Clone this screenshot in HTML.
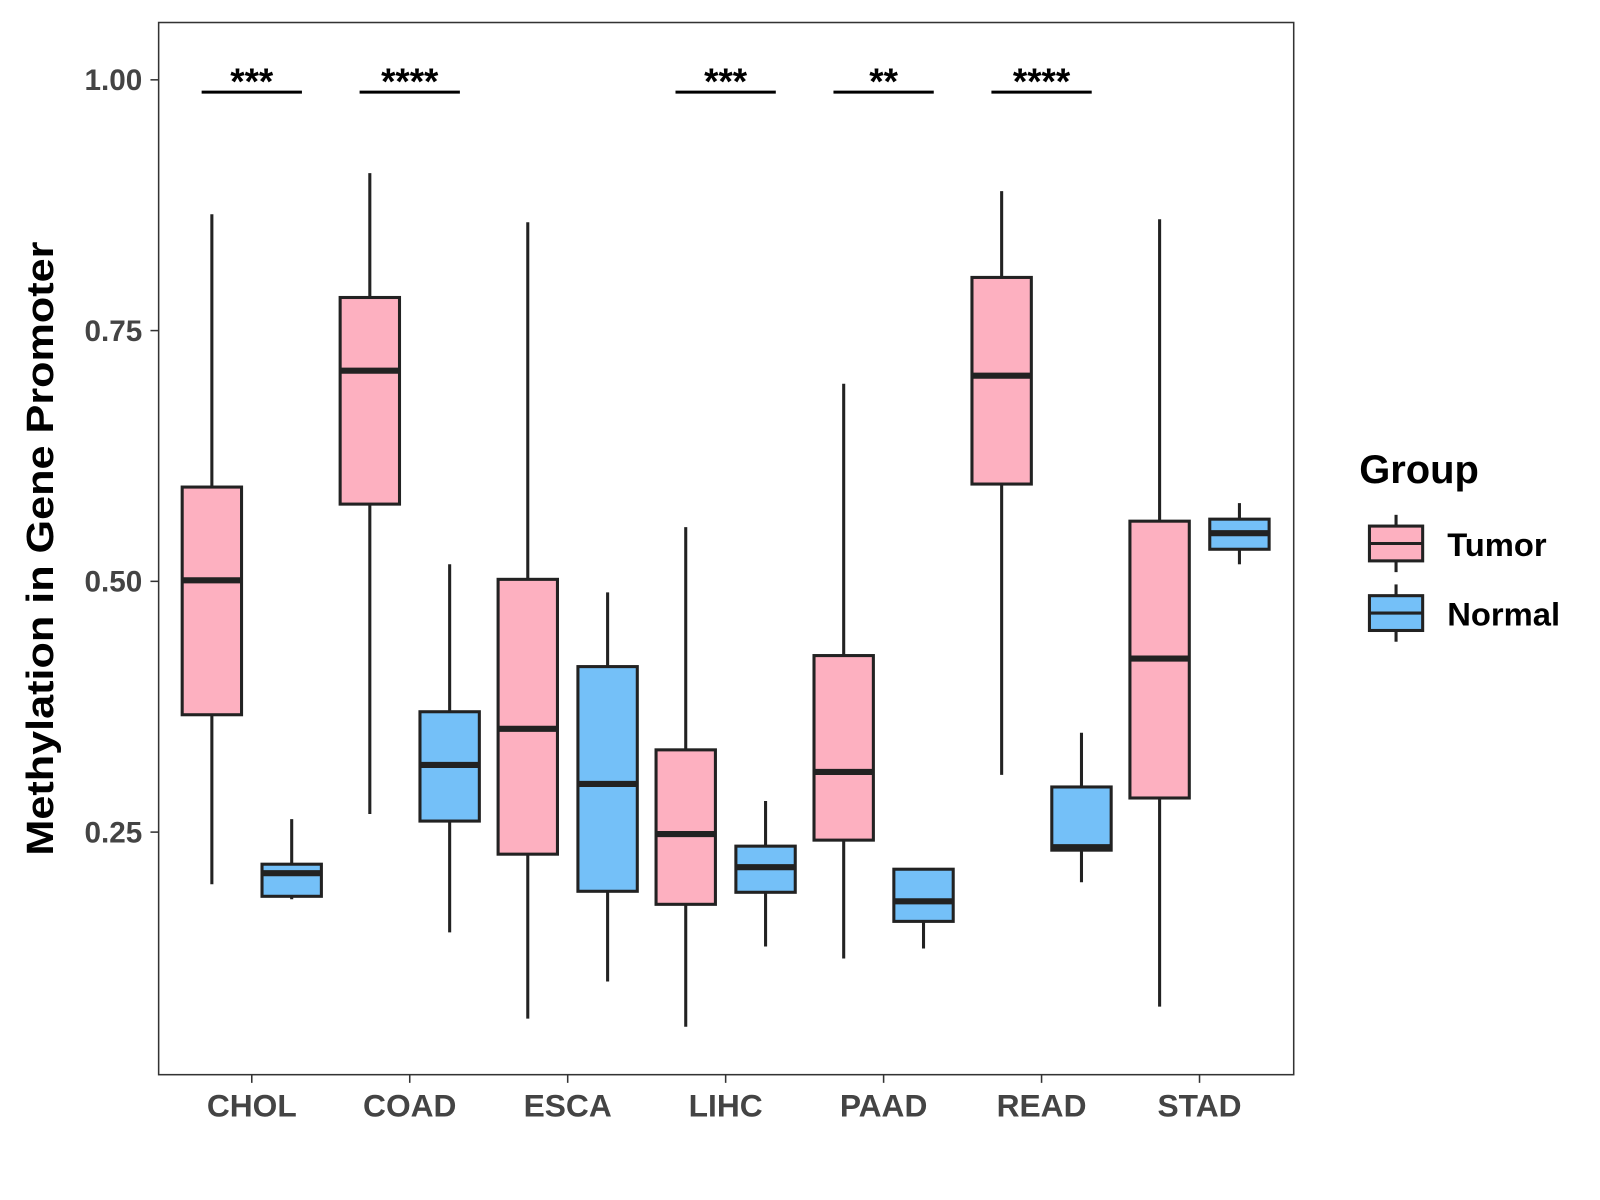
<!DOCTYPE html>
<html><head><meta charset="utf-8"><style>
body{margin:0;background:#fff}
svg{display:block;font-family:"Liberation Sans",Arial,sans-serif}
</style></head><body>
<svg id="chart" width="1600" height="1200" viewBox="0 0 1600 1200">
<rect x="0" y="0" width="1600" height="1200" fill="#fff"/>
<g transform="scale(1.0235)">
<rect x="155" y="22" width="1109" height="1028" fill="none" stroke="#333" stroke-width="1.5"/>
<g id="boxes"></g><g id="axes"></g>
<text transform="translate(52,536) rotate(-90)" text-anchor="middle" font-size="37" font-weight="bold" fill="#000" textLength="600" lengthAdjust="spacingAndGlyphs">Methylation in Gene Promoter</text>
<g>
<text x="1328" y="472" font-size="39" font-weight="bold">Group</text>
<g>
<line x1="1364" y1="503" x2="1364" y2="559" stroke="#222" stroke-width="3"/>
<rect x="1338" y="514" width="52" height="34" fill="#FDB0C0" stroke="#222" stroke-width="3"/>
<line x1="1338" y1="531" x2="1390" y2="531" stroke="#222" stroke-width="3"/>
<text x="1414" y="543" font-size="32" font-weight="bold">Tumor</text></g>
<g>
<line x1="1364" y1="571" x2="1364" y2="627" stroke="#222" stroke-width="3"/>
<rect x="1338" y="582" width="52" height="34" fill="#74C0F8" stroke="#222" stroke-width="3"/>
<line x1="1338" y1="599" x2="1390" y2="599" stroke="#222" stroke-width="3"/>
<text x="1414" y="611" font-size="32" font-weight="bold">Normal</text></g>
</g>
</g>
</svg>
<script>
const categories=["CHOL","COAD","ESCA","LIHC","PAAD","READ","STAD"];
const tumorMin=[0.198,0.268,0.064,0.056,0.124,0.307,0.076];
const tumorQ1=[0.367,0.577,0.228,0.178,0.242,0.597,0.284];
const tumorMed=[0.501,0.710,0.353,0.248,0.310,0.705,0.423];
const tumorQ3=[0.594,0.783,0.502,0.332,0.426,0.803,0.560];
const tumorMax=[0.866,0.907,0.858,0.554,0.697,0.889,0.861];
const normalMin=[0.183,0.150,0.101,0.136,0.134,0.200,0.517];
const normalQ1=[0.186,0.261,0.191,0.190,0.161,0.232,0.532];
const normalMed=[0.209,0.317,0.298,0.215,0.181,0.235,0.548];
const normalQ3=[0.218,0.370,0.415,0.236,0.213,0.295,0.562];
const normalMax=[0.263,0.517,0.489,0.281,0.213,0.349,0.578];
const signif=["***","****","","***","**","****",""];
const yTicks=[0.25,0.50,0.75,1.00];
const yTickLabels=["0.25","0.50","0.75","1.00"];
const NS="http://www.w3.org/2000/svg";
const y=v=>78+(1-v)*980;
const x=i=>246+i*154.33;
function mk(tag,attrs,parent){const e=document.createElementNS(NS,tag);for(const k in attrs)e.setAttribute(k,attrs[k]);parent.appendChild(e);return e;}
const boxes=document.getElementById('boxes'),axes=document.getElementById('axes');
function drawBox(cx,mn,q1,md,q3,mx,fill,name){
  const g=mk('g',{},boxes);
  
  
  mk('line',{x1:cx,x2:cx,y1:y(mx),y2:y(mn),stroke:'#222','stroke-width':3},g);
  mk('rect',{x:cx-29,y:y(q3),width:58,height:y(q1)-y(q3),fill:fill,stroke:'#222','stroke-width':3},g);
  mk('line',{x1:cx-29,x2:cx+29,y1:y(md),y2:y(md),stroke:'#222','stroke-width':6},g);
}
categories.forEach((c,i)=>{
  drawBox(x(i)-39,tumorMin[i],tumorQ1[i],tumorMed[i],tumorQ3[i],tumorMax[i],'#FDB0C0','box-tumor-'+c.toLowerCase());
  drawBox(x(i)+39,normalMin[i],normalQ1[i],normalMed[i],normalQ3[i],normalMax[i],'#74C0F8','box-normal-'+c.toLowerCase());
  if(signif[i]){
    const g=mk('g',{},boxes);
    
    
    mk('line',{x1:x(i)-49,x2:x(i)+49,y1:90,y2:90,stroke:'#000','stroke-width':3},g);
    const t=mk('text',{x:x(i),y:92,'text-anchor':'middle','font-size':36,'font-weight':'bold'},g);
    t.textContent=signif[i];
  }
  mk('line',{x1:x(i),x2:x(i),y1:1050,y2:1058,stroke:'#333','stroke-width':1.5},axes);
  const t=mk('text',{x:x(i),y:1091,'text-anchor':'middle','font-size':31,'font-weight':'bold',fill:'#444'},axes);
  
  
  t.textContent=c;
});
yTicks.forEach((v,i)=>{
  mk('line',{x1:147,x2:155,y1:y(v),y2:y(v),stroke:'#333','stroke-width':1.5},axes);
  const t=mk('text',{x:139,y:y(v)+10,'text-anchor':'end','font-size':29,'font-weight':'bold',fill:'#444'},axes);
  
  
  t.textContent=yTickLabels[i];
});
</script>
</body></html>
